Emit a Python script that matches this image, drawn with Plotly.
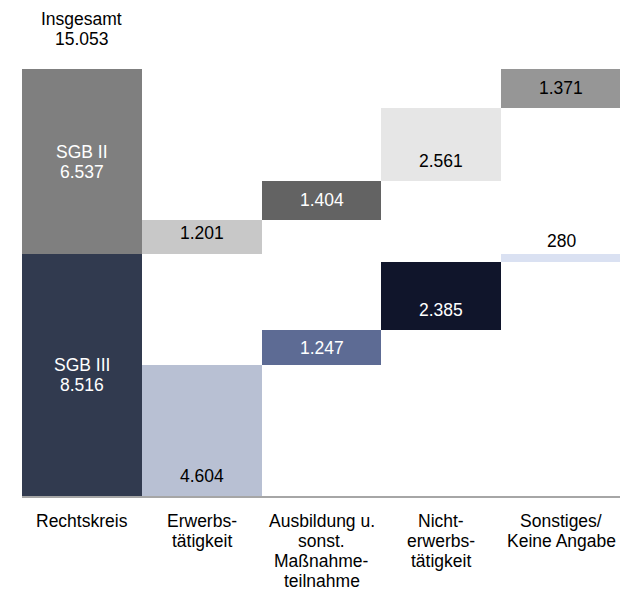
import plotly.graph_objects as go

# ---- data ----
categories = [["Rechtskreis"], ["Erwerbs-", "tätigkeit"],
              ["Ausbildung u.", "sonst.", "Maßnahme-", "teilnahme"],
              ["Nicht-", "erwerbs-", "tätigkeit"], ["Sonstiges/", "Keine Angabe"]]
sgb3_values = [8516, 4604, 1247, 2385, 280]
sgb2_values = [6537, 1201, 1404, 2561, 1371]
total_label = "Insgesamt"
series_names = ["SGB III", "SGB II"]

# ---- styles ----
sgb3_colors = ["#313a4f", "#b8c0d3", "#5d6b94", "#10152b", "#dae1f2"]
sgb2_colors = ["#7f7f7f", "#c8c8c8", "#636363", "#e6e6e6", "#969696"]
sgb3_text_colors = ["white", "black", "white", "white", "black"]
sgb2_text_colors = ["white", "black", "white", "black", "black"]
sgb3_label_pos = ["mid", "base", "mid", "base", "above"]
sgb2_label_pos = ["mid", "mid", "mid", "base", "mid"]
sgb2_label_shift = [0, 4, 0, 0, 0]
FONT = "Liberation Sans, Arial, sans-serif"
FS = 17.5
LINE = 20  # line spacing in px


def fmt(v):
    return f"{v:,}".replace(",", ".")


# bases: first column stacks, rest cascade
total3 = sgb3_values[0]
total2 = sgb2_values[0]
total = total3 + total2
sgb3_base = [0]
acc = 0
for v in sgb3_values[1:]:
    sgb3_base.append(acc)
    acc += v
sgb2_base = [total3]
acc = total3
for v in sgb2_values[1:]:
    sgb2_base.append(acc)
    acc += v

x_idx = list(range(len(categories)))

fig = go.Figure()
fig.add_trace(go.Bar(x=x_idx, y=sgb3_values, base=sgb3_base, width=1.0,
                     marker=dict(color=sgb3_colors, line=dict(width=0)),
                     name=series_names[0], hoverinfo="skip"))
fig.add_trace(go.Bar(x=x_idx, y=sgb2_values, base=sgb2_base, width=1.0,
                     marker=dict(color=sgb2_colors, line=dict(width=0)),
                     name=series_names[1], hoverinfo="skip"))

annotations = []


def txt(x, y, text, color, yshift=0, yref="y"):
    annotations.append(dict(x=x, y=y, xref="x", yref=yref, text=text, showarrow=False,
                            yanchor="middle", yshift=yshift,
                            font=dict(color=color, size=FS, family=FONT)))


def add_label(i, val, base, pos, color, prefix=None, shift=0):
    if pos == "mid":
        y, ys = base + val / 2, shift
    elif pos == "base":
        y, ys = base, 20 + shift
    else:
        y, ys = base + val, 13 + shift
    if prefix:
        txt(i, y, prefix, color, ys + LINE / 2)
        txt(i, y, fmt(val), color, ys - LINE / 2)
    else:
        txt(i, y, fmt(val), color, ys)


for i in x_idx:
    p3 = series_names[0] if i == 0 else None
    p2 = series_names[1] if i == 0 else None
    add_label(i, sgb3_values[i], sgb3_base[i], sgb3_label_pos[i], sgb3_text_colors[i], p3)
    add_label(i, sgb2_values[i], sgb2_base[i], sgb2_label_pos[i], sgb2_text_colors[i], p2,
              sgb2_label_shift[i])

# total header
txt(0, total, total_label, "black", 30 + LINE)
txt(0, total, fmt(total), "black", 30)

# category labels (one annotation per line)
for i, lines in enumerate(categories):
    for k, line in enumerate(lines):
        txt(i, 0, line, "black", -(25 + k * LINE), yref="paper")

fig.update_layout(
    width=620, height=583,
    margin=dict(l=14, r=7, t=20, b=95),
    barmode="overlay",
    bargap=0,
    showlegend=False,
    plot_bgcolor="white",
    paper_bgcolor="white",
    font=dict(family=FONT, size=FS, color="black"),
    annotations=annotations,
    xaxis=dict(range=[-0.5, 4.5], tickvals=x_idx, showticklabels=False, automargin=False,
               showline=True, linecolor="#a6a6a6", linewidth=2, showgrid=False,
               zeroline=False, ticks=""),
    yaxis=dict(range=[0, 16498], visible=False, showgrid=False, zeroline=False,
               automargin=False),
)

fig.write_html("out.html")
